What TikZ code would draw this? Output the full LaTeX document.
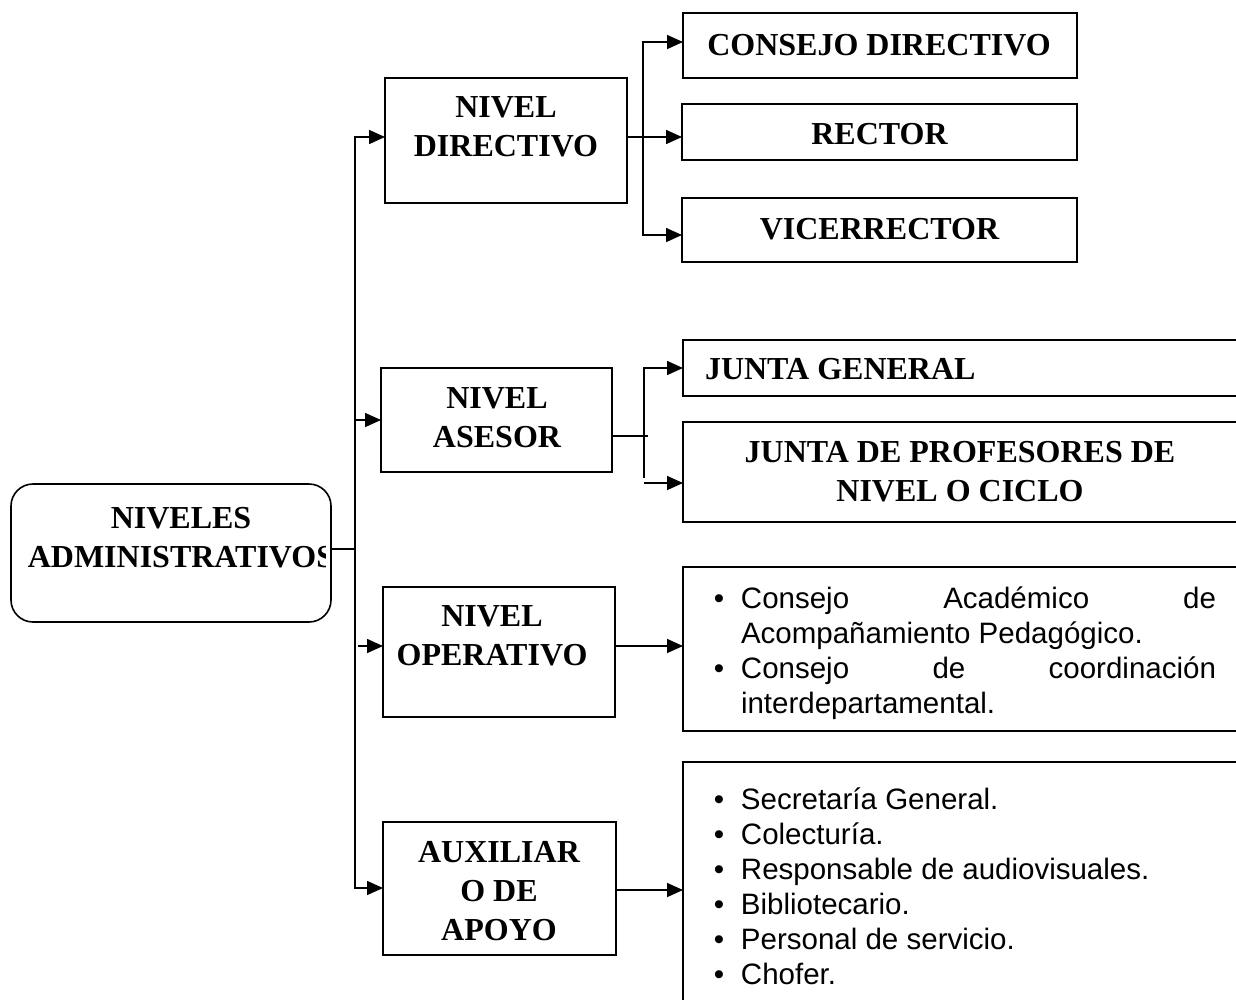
\documentclass[tikz,border=0pt]{standalone}
\usepackage{fontspec}
\setmainfont{Liberation Serif}
\newfontfamily\arialfont{Liberation Sans}
\usetikzlibrary{arrows.meta}
\newcommand\bigbold{\fontsize{32}{39}\selectfont\bfseries}
\newcommand\listfont{\arialfont\fontsize{29.5}{35}\selectfont}
\newcommand\blt{\makebox[44pt]{\textbullet}}
\begin{document}
\begin{tikzpicture}[x=1pt,y=-1pt,
  line width=1.6pt,
  boxn/.style={draw, line width=1.6pt, inner sep=0pt, outer sep=0pt},
  lbl/.style={inner sep=0pt, outer sep=0pt, align=center, font=\bigbold, anchor=north},
  arr/.style={-{Triangle[length=16pt,width=14pt]}},
  lst/.style={inner sep=0pt, outer sep=0pt, anchor=north west, font=\listfont}]
\clip (0,0) rectangle (1236,999);
% boxes
\node[boxn, rounded corners=22pt, minimum width=320pt, minimum height=138pt] (root) at (171,553) {};
\node[boxn, minimum width=242pt, minimum height=125pt] (dir) at (506,140.5) {};
\node[boxn, minimum width=231pt, minimum height=104pt] (ase) at (496.5,420) {};
\node[boxn, minimum width=232pt, minimum height=130pt] (ope) at (499,652) {};
\node[boxn, minimum width=233pt, minimum height=133pt] (aux) at (499.5,888.5) {};
\node[boxn, minimum width=394pt, minimum height=65pt] (cd) at (880,45.5) {};
\node[boxn, minimum width=395pt, minimum height=56pt] (rec) at (879.5,132) {};
\node[boxn, minimum width=395pt, minimum height=64pt] (vic) at (879.5,230) {};
\node[boxn, minimum width=567pt, minimum height=56pt] (jg) at (966.5,368) {};
\node[boxn, minimum width=567pt, minimum height=100pt] (jp) at (966.5,472) {};
\node[boxn, minimum width=567pt, minimum height=164pt] (opl) at (966.5,649) {};
\node[boxn, minimum width=567pt, minimum height=248pt] (apl) at (966.5,886) {};
% trunk
\coordinate (tr) at (355,549);
\coordinate (ttop) at (355,137);
\coordinate (tbot) at (355,888);
\coordinate (opa) at (358,646);
\draw (root.east |- tr) -- (tr);
\draw[arr] (tr) -- (ttop) -- (dir.west |- ttop);
\draw[arr] (tr) -- (tbot) -- (aux.west |- tbot);
\draw[arr] (tr |- ase.west) -- (ase.west);
\draw[arr] (opa) -- (ope.west |- opa);
% directivo branch
\coordinate (db) at (643,137);
\coordinate (dbt) at (643,42);
\coordinate (dbb) at (643,235);
\draw[arr] (dir.east |- db) -- (rec.west |- db);
\draw[arr] (db) -- (dbt) -- (cd.west |- dbt);
\draw[arr] (db) -- (dbb) -- (vic.west |- dbb);
% asesor branch
\coordinate (as) at (648,436);
\coordinate (abt) at (644,368);
\coordinate (abb) at (644,478);
\coordinate (abr) at (644,483);
\draw (ase.east |- as) -- (as);
\draw[arr] (abb) -- (abt) -- (jg.west |- abt);
\draw[arr] (abr) -- (jp.west |- abr);
% operativo / apoyo
\coordinate (opb) at (615,646);
\coordinate (axb) at (616,890);
\draw[arr] (ope.east |- opb) -- (opl.west |- opb);
\draw[arr] (aux.east |- axb) -- (apl.west |- axb);
% texts
\begin{scope}
\clip (11,484) rectangle (325,622);
\node[lbl] (roott) at (181,507) {NIVELES\\ADMINISTRATIVOS};
\end{scope}
\node[lbl] (dirt) at (506,97) {NIVEL\\DIRECTIVO};
\node[lbl] (aset) at (497,388) {NIVEL\\ASESOR};
\node[lbl] (opet) at (492,606) {NIVEL\\OPERATIVO};
\node[lbl] (auxt) at (499,841) {AUXILIAR\\O DE\\APOYO};
\node[lbl] (cdt) at (879,34) {CONSEJO DIRECTIVO};
\node[lbl] (rect) at (879.5,123) {RECTOR};
\node[lbl] (vict) at (879.5,218) {VICERRECTOR};
\node[lbl, anchor=north west] (jgt) at (705,358) {JUNTA GENERAL};
\node[lbl] (jpt) at (960,441) {JUNTA DE PROFESORES DE\\NIVEL O CICLO};
\node[lst] (oplt) at (697,583.5) {\begin{tabular}{@{}l@{}l@{}}
\blt & \makebox[475pt][s]{Consejo\hfill Académico\hfill de}\\
 & Acompañamiento Pedagógico.\\
\blt & \makebox[475pt][s]{Consejo\hfill de\hfill coordinación}\\
 & interdepartamental.
\end{tabular}};
\node[lst] (aplt) at (697,784.5) {\begin{tabular}{@{}l@{}l@{}}
\blt & Secretaría General.\\
\blt & Colecturía.\\
\blt & Responsable de audiovisuales.\\
\blt & Bibliotecario.\\
\blt & Personal de servicio.\\
\blt & Chofer.
\end{tabular}};
\end{tikzpicture}
\end{document}
